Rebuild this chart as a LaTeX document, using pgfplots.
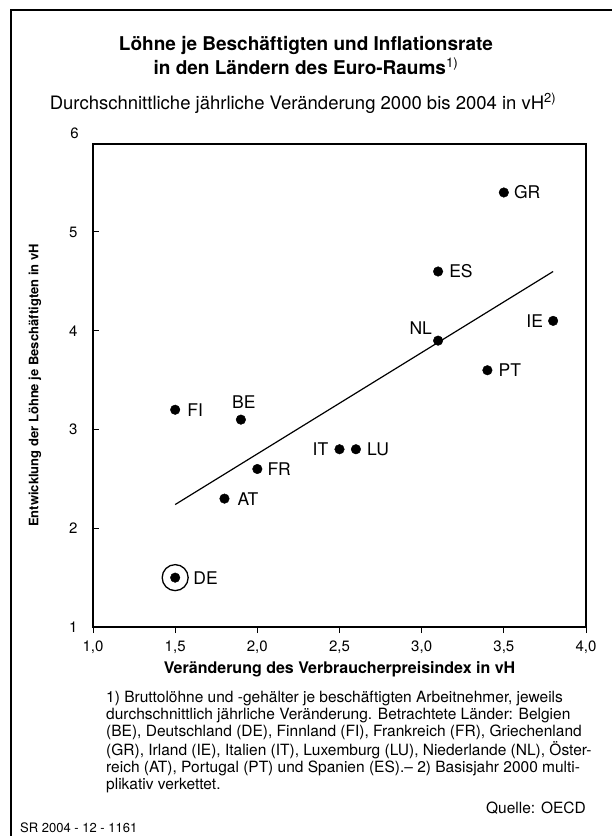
\documentclass[border=0pt]{standalone}
\usepackage{pgfplots}
\pgfplotsset{compat=1.18}
\usepackage{fontspec}
\setmainfont{TeX Gyre Heros}
\begin{document}
\begin{tikzpicture}[x=1pt,y=1pt]
\path[use as bounding box] (0,0) rectangle (612,-836);
\draw[line width=2.2pt] (612,-10) -- (11,-10) -- (11,-836);
\node[anchor=base, font=\bfseries\fontsize{19}{22}\selectfont, inner sep=0] at (306,-50) {Löhne je Beschäftigten und Inflationsrate};
\node[anchor=base, font=\bfseries\fontsize{19}{22}\selectfont, inner sep=0] at (306,-74) {in den Ländern des Euro-Raums\textsuperscript{\normalfont 1)}};
\node[anchor=base, font=\fontsize{18.5}{21}\selectfont, inner sep=0] at (303,-109) {Durchschnittliche jährliche Veränderung 2000 bis 2004 in vH\textsuperscript{2)}};
\begin{axis}[
  at={(93pt,-627pt)}, anchor=south west,
  width=493pt, height=483pt, scale only axis,
  xmin=1, xmax=4, ymin=1, ymax=5.891,
  clip=false,
  axis line style={line width=1.8pt},
  xtick={1,1.5,2,2.5,3,3.5,4},
  ytick={1,2,3,4,5},
  xtick pos=bottom, ytick pos=left,
  major tick length=6pt,
  tick style={line width=1pt, black},
  x tick style={yshift=-6pt},
  /pgf/number format/assume math mode=true,
  xticklabel style={font=\fontsize{15}{18}\selectfont, /pgf/number format/.cd, fixed, fixed zerofill, precision=1, use comma},
  yticklabel style={font=\fontsize{15}{18}\selectfont, xshift=-12pt},
  xticklabel shift=10pt,
  xlabel={\bfseries Veränderung des Verbraucherpreisindex in vH},
  ylabel={\bfseries Entwicklung der Löhne je Beschäftigten in vH},
  xlabel style={font=\fontsize{16}{18}\selectfont, yshift=-1pt},
  ylabel style={font=\fontsize{13}{16}\selectfont, yshift=21pt},
]
\addplot[line width=1.2pt] coordinates {(1.5,2.24) (3.8,4.6)};
\addplot[only marks, mark=*, mark size=4.8pt, black] coordinates {
(3.5,5.4) (3.1,4.6) (3.1,3.9) (3.8,4.1) (3.4,3.6)
(1.5,3.2) (1.9,3.1) (2.5,2.8) (2.6,2.8) (2.0,2.6) (1.8,2.3) (1.5,1.5)};
\addplot[only marks, mark=o, mark size=13pt, line width=1.3pt, black] coordinates {(1.5,1.5)};
\begin{scope}[every node/.style={font=\fontsize{17.5}{20}\selectfont, inner sep=0}]
\node[anchor=west] at ([xshift=10pt]axis cs:3.5,5.4) {GR};
\node[anchor=west] at ([xshift=11pt]axis cs:3.1,4.6) {ES};
\node[anchor=east] at ([xshift=-6pt,yshift=13pt]axis cs:3.1,3.9) {NL};
\node[anchor=east] at ([xshift=-10pt]axis cs:3.8,4.1) {IE};
\node[anchor=west] at ([xshift=11pt]axis cs:3.4,3.6) {PT};
\node[anchor=west] at ([xshift=12pt]axis cs:1.5,3.2) {FI};
\node[anchor=center] at ([xshift=3pt,yshift=18pt]axis cs:1.9,3.1) {BE};
\node[anchor=east] at ([xshift=-11pt]axis cs:2.5,2.8) {IT};
\node[anchor=west] at ([xshift=11pt]axis cs:2.6,2.8) {LU};
\node[anchor=west] at ([xshift=10pt]axis cs:2.0,2.6) {FR};
\node[anchor=west] at ([xshift=13pt]axis cs:1.8,2.3) {AT};
\node[anchor=west] at ([xshift=18pt]axis cs:1.5,1.5) {DE};
\node[anchor=east, font=\fontsize{15}{18}\selectfont] at ([xshift=-14pt,yshift=11pt]axis cs:1,5.891) {6};
\end{scope}
\end{axis}
\node[anchor=north west, align=left, font=\fontsize{15.5}{17.2}\selectfont, inner sep=0] at (106,-691) {1) Bruttolöhne und -gehälter je beschäftigten Arbeitnehmer, jeweils\\durchschnittlich jährliche Veränderung. Betrachtete Länder: Belgien\\(BE), Deutschland (DE), Finnland (FI), Frankreich (FR), Griechenland\\(GR), Irland (IE), Italien (IT), Luxemburg (LU), Niederlande (NL), Öster-\\reich (AT), Portugal (PT) und Spanien (ES).-- 2) Basisjahr 2000 multi-\\plikativ verkettet.};
\node[anchor=base east, font=\fontsize{15.5}{17}\selectfont, inner sep=0] at (586,-813) {Quelle: OECD};
\node[anchor=base west, font=\fontsize{13}{15}\selectfont, inner sep=0] at (20,-832) {SR 2004 - 12 - 1161};
\end{tikzpicture}
\end{document}
